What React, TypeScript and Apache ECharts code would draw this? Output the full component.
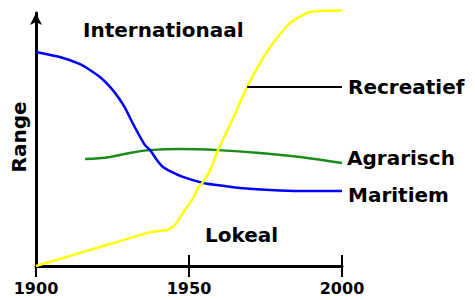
import React, { useEffect, useRef } from "react";
import * as echarts from "echarts";

const xTicks = [1900, 1950, 2000];

const recreatief: [number, number][] = [
  [1900, 0], [1920.9, 7.5], [1937.3, 13.4], [1942.8, 14.2], [1945.4, 16.2],
  [1948.0, 20.9], [1951.0, 26.1], [1952.9, 30.8], [1954.6, 33.2], [1956.9, 37.9],
  [1959.5, 45.8], [1964.1, 57.7], [1969.0, 70.8], [1973.2, 80.2], [1977.5, 88.1],
  [1983.0, 96.0], [1989.5, 100.4], [2000, 101],
];

const maritiem: [number, number][] = [
  [1900, 84.6], [1907.8, 82.6], [1914.4, 79.8], [1917.6, 77.5], [1920.9, 74.7],
  [1924.2, 70.8], [1926.8, 66.8], [1929.1, 62.5], [1931.4, 56.9], [1933.3, 52.6],
  [1935.6, 47.8], [1937.3, 45.8], [1939.5, 41.9], [1941.5, 39.1], [1943.8, 37.5],
  [1948.0, 35.2], [1954.6, 32.8], [1959.2, 32.0], [1966.7, 30.8], [1976.5, 30.0],
  [1986.3, 29.6], [2000, 29.6],
];

const agrarisch: [number, number][] = [
  [1916.0, 42.3], [1924.2, 43.1], [1930.7, 44.7], [1937.3, 45.8], [1947.1, 46.2],
  [1959.5, 45.8], [1973.2, 44.7], [1986.3, 43.1], [2000, 40.7],
];

const recreatiefLeader: [number, number, number] = [1969, 2000, 70.8];

const labels = {
  y: "Range",
  top: "Internationaal",
  bottom: "Lokeal",
  recreatief: "Recreatief",
  agrarisch: "Agrarisch",
  maritiem: "Maritiem",
};

const FONT = "DejaVu Sans";

export default function App() {
  const ref = useRef<HTMLDivElement>(null);
  useEffect(() => {
    if (!ref.current) return;
    const chart = echarts.init(ref.current, null, { renderer: "svg" });
    const txt = (text: string, x: number, y: number, extra: any = {}) => ({
      type: "text",
      x,
      y,
      style: {
        text,
        fill: "#000",
        font: `bold 20px "${FONT}"`,
        verticalAlign: "middle",
        align: "left",
      },
      ...extra,
    });
    const lineSeries = (name: string, data: [number, number][], color: string, smooth: number) => ({
      type: "line",
      name,
      data,
      smooth,
      symbol: "none",
      clip: false,
      lineStyle: { color, width: 2.5 },
    });
    chart.setOption({
      animation: false,
      grid: { left: 36, right: 133, top: 13, bottom: 34 },
      xAxis: [
        {
          type: "value",
          min: xTicks[0],
          max: xTicks[xTicks.length - 1],
          interval: xTicks[1] - xTicks[0],
          axisLine: { show: true, lineStyle: { color: "#000", width: 3 } },
          axisTick: { show: true, length: 11, lineStyle: { color: "#000", width: 2 } },
          axisLabel: {
            show: true,
            color: "#000",
            fontFamily: FONT,
            fontWeight: "bold",
            fontSize: 16,
            margin: 14,
            formatter: (v: number) => String(v),
          },
          splitLine: { show: false },
        },
        {
          type: "value",
          position: "bottom",
          offset: 0,
          min: xTicks[0],
          max: xTicks[xTicks.length - 1],
          interval: xTicks[1] - xTicks[0],
          axisLine: { show: false },
          axisTick: { show: true, inside: true, length: 11, lineStyle: { color: "#000", width: 2 } },
          axisLabel: { show: false },
          splitLine: { show: false },
        },
      ],
      yAxis: {
        type: "value",
        min: 0,
        max: 100,
        axisLine: {
          show: true,
          symbol: ["none", "arrow"],
          symbolSize: [9, 12],
          lineStyle: { color: "#000", width: 3 },
        },
        axisTick: { show: false },
        axisLabel: { show: false },
        splitLine: { show: false },
      },
      series: [
        lineSeries(labels.agrarisch, agrarisch, "#1a8a1a", 0.4),
        lineSeries(labels.maritiem, maritiem, "#0000ff", 0.2),
        {
          ...lineSeries(labels.recreatief, recreatief, "#ffff00", 0.2),
          markLine: {
            silent: true,
            symbol: "none",
            label: { show: false },
            lineStyle: { color: "#000", width: 2, type: "solid" },
            data: [
              [
                { coord: [recreatiefLeader[0], recreatiefLeader[2]] },
                { coord: [recreatiefLeader[1], recreatiefLeader[2]] },
              ],
            ],
          },
        },
      ],
      graphic: [
        txt(labels.top, 83, 30),
        txt(labels.bottom, 205, 235),
        txt(labels.recreatief, 348, 87),
        txt(labels.agrarisch, 347, 158),
        txt(labels.maritiem, 348, 195),
        {
          type: "text",
          x: 19,
          y: 137,
          rotation: Math.PI / 2,
          style: {
            text: labels.y,
            fill: "#000",
            font: `bold 20px "${FONT}"`,
            verticalAlign: "middle",
            align: "center",
          },
        },
      ],
    });
    return () => chart.dispose();
  }, []);
  return (
    <div
      ref={ref}
      style={{ position: "fixed", left: 0, top: 0, width: 475, height: 300, background: "#fff" }}
    />
  );
}
